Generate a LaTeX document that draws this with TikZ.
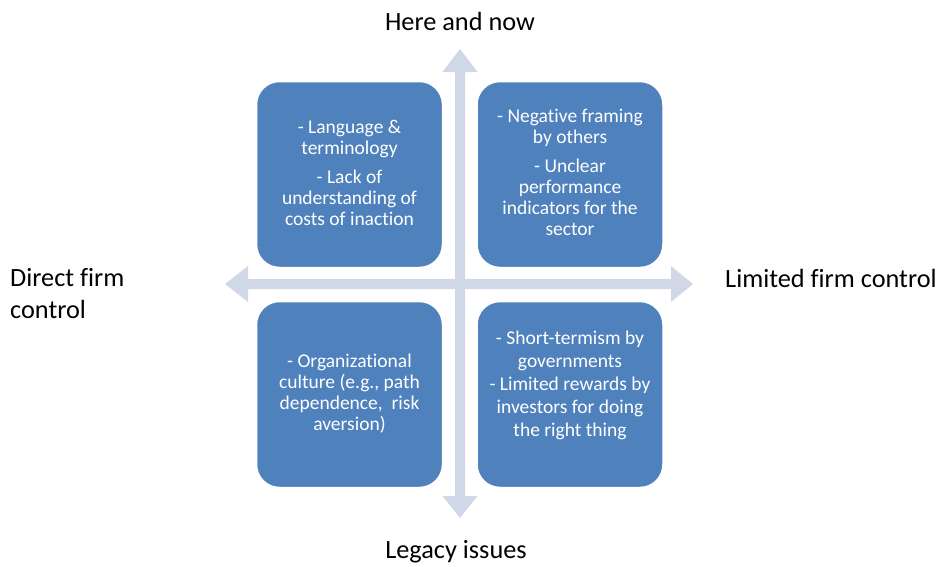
\documentclass[tikz,border=0pt]{standalone}
\usepackage{fontspec}
\setmainfont{Carlito}[Ligatures={NoCommon}]
\usetikzlibrary{shadows}
\definecolor{boxblue}{RGB}{79,129,189}
\definecolor{axiscol}{RGB}{208,216,232}
\begin{document}
\begin{tikzpicture}[x=1pt,y=-1pt,
  quad/.style={rounded corners=24pt, fill=boxblue, draw=white, line width=3.5pt,
    minimum width=188pt, minimum height=188pt,
    drop shadow={opacity=0.25, shadow xshift=1pt, shadow yshift=-1.5pt}},
  quadtext/.style={align=center, text=white, inner sep=0pt,
    font=\fontsize{19.5}{21}\selectfont},
  axis/.style={fill=axiscol, draw=none},
  outer/.style={font=\fontsize{26.3}{32}\selectfont, text=black, inner sep=0pt}]
\useasboundingbox (0,0) rectangle (938,566);
% axes
\coordinate (top) at (460,49);
\coordinate (bot) at (460,518);
\coordinate (lft) at (225,284);
\coordinate (rgt) at (693,284);
\fill[axis] (top) -- (477.5,72) -- (465,72) -- (465,496) -- (477.5,496) -- (bot)
  -- (442.5,496) -- (455,496) -- (455,72) -- (442.5,72) -- cycle;
\fill[axis] (lft) -- (248,266) -- (248,279) -- (671,279) -- (671,266) -- (rgt)
  -- (671,302) -- (671,289) -- (248,289) -- (248,302) -- cycle;
% boxes
\node[quad] (tl) at (349.5,174.5) {};
\node[quad] (tr) at (570,174.5) {};
\node[quad] (bl) at (349.5,394.5) {};
\node[quad] (br) at (570,394.5) {};
% box texts
\node[quadtext] (tlt) at (349.5,173) {- Language \&\\terminology\\[8pt]- Lack of\\understanding of\\costs of inaction};
\node[quadtext] (trt) at (570,172.5) {- Negative framing\\by others\\[8pt]- Unclear\\performance\\indicators for the\\sector};
\node[quadtext] (blt) at (349.5,393.5) {- Organizational\\culture (e.g., path\\dependence,\ \ risk\\aversion)};
\node[quadtext, font=\fontsize{19.5}{23}\selectfont] (brt) at (570,385) {- Short-termism by\\governments\\- Limited rewards by\\investors for doing\\the right thing};
% labels
\node[outer] (here) at (460,21) {Here and now};
\node[outer] (leg) at (456,552) {Legacy issues};
\node[outer, anchor=west, align=left] (dir) at (10,294) {Direct firm\\control};
\node[outer, anchor=west] (lim) at (725,278) {Limited firm control};
\end{tikzpicture}
\end{document}
